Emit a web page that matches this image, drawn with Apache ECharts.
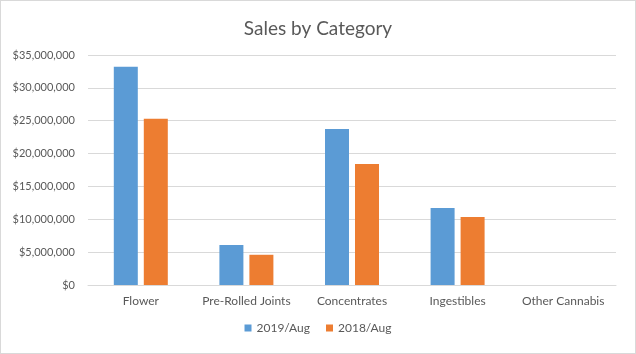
<!DOCTYPE html>
<html>
<head>
<meta charset="utf-8">
<script src="https://cdn.jsdelivr.net/npm/echarts@6/dist/echarts.min.js"></script>
<style>
  html, body { margin: 0; padding: 0; background: #fff; }
  #chart { width: 634px; height: 352px; border: 1px solid #d9d9d9; }
</style>
</head>
<body>
<div id="chart"></div>
<script>
var categories = ["Flower", "Pre-Rolled Joints", "Concentrates", "Ingestibles", "Other Cannabis"];
var sales2019 = [33200000, 6100000, 23750000, 11700000, 0];
var sales2018 = [25300000, 4600000, 18400000, 10350000, 0];
var seriesNames = ["2019/Aug", "2018/Aug"];

// 基于准备好的dom，初始化echarts图表
var myChart = echarts.init(document.getElementById("chart"));

function money(v) {
  return "$" + v.toString().replace(/\B(?=(\d{3})+(?!\d))/g, ",");
}

var option = {
  animation: false,
  textStyle: { fontFamily: "Lato, Open Sans, sans-serif" },
  title: {
    text: "Sales by Category",
    left: "center",
    top: 13,
    textStyle: { color: "#595959", fontSize: 19, fontWeight: "normal" }
  },
  legend: {
    data: seriesNames,
    bottom: 14,
    icon: "rect",
    itemWidth: 7,
    itemHeight: 7,
    itemGap: 16,
    textStyle: { color: "#595959", fontSize: 12 }
  },
  grid: { left: 87, right: 19, top: 54, bottom: 68 },
  xAxis: {
    type: "category",
    data: categories,
    axisLine: { lineStyle: { color: "#d9d9d9" } },
    axisTick: { show: false },
    axisLabel: { color: "#595959", fontSize: 12, margin: 10, interval: 0 }
  },
  yAxis: {
    type: "value",
    min: 0,
    max: 35000000,
    interval: 5000000,
    axisLine: { show: false },
    axisTick: { show: false },
    splitLine: { lineStyle: { color: "#d9d9d9" } },
    axisLabel: { color: "#595959", fontSize: 11, margin: 13, formatter: money }
  },
  series: [
    {
      name: seriesNames[0],
      type: "bar",
      data: sales2019,
      barWidth: 24,
      barGap: "25%",
      itemStyle: { color: "#5b9bd5" }
    },
    {
      name: seriesNames[1],
      type: "bar",
      data: sales2018,
      barWidth: 24,
      itemStyle: { color: "#ed7d31" }
    }
  ]
};

myChart.setOption(option);
</script>
</body>
</html>
